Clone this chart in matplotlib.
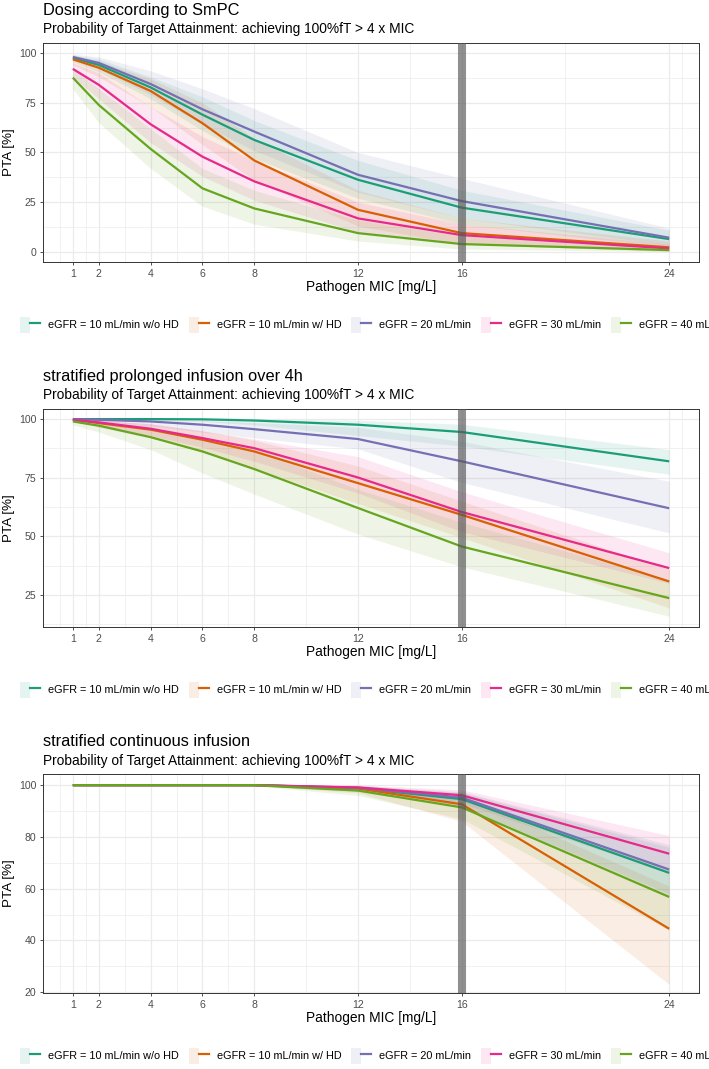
import matplotlib
matplotlib.use("Agg")
import matplotlib.pyplot as plt
from matplotlib.patches import Patch
from matplotlib.lines import Line2D
from matplotlib.legend_handler import HandlerTuple

plt.rcParams['font.family'] = ['Liberation Sans', 'DejaVu Sans']

# MIC 값 (x축)
mic = [1, 2, 4, 6, 8, 12, 16, 24]
mic_ticks = [1, 2, 4, 6, 8, 12, 16, 24]
mic_minor = [0.5, 1.5, 3, 5, 7, 10, 14, 20, 24.5]
breakpoint_mic = 16

groups = ["eGFR = 10 mL/min w/o HD", "eGFR = 10 mL/min w/ HD", "eGFR = 20 mL/min",
          "eGFR = 30 mL/min", "eGFR = 40 mL/min"]
colors = ["#1B9E77", "#D95F02", "#7570B3", "#E7298A", "#66A61E"]

# 패널 1: Dosing according to SmPC
smpc_teal = [97.5, 94, 82.7, 69, 56.3, 36.3, 22.3, 6.5]
smpc_teal_lo = [95.5, 90.5, 77, 61, 47, 27, 14, 2.5]
smpc_teal_hi = [99, 97, 88, 78, 66, 46, 31, 11]
smpc_orange = [96.8, 92.6, 80.9, 64.7, 46.0, 21.2, 9.5, 2.4]
smpc_orange_lo = [94, 88, 73, 54, 36, 13, 4, 0.5]
smpc_orange_hi = [98.5, 96, 87, 75, 57, 31, 17, 5.5]
smpc_purple = [98, 95, 84.4, 71.7, 60.5, 38.8, 25.6, 7.2]
smpc_purple_lo = [96.5, 92, 79, 64, 51, 30, 17, 3.5]
smpc_purple_hi = [99.5, 98, 91, 82, 72, 50, 37, 12]
smpc_pink = [92, 84, 64.2, 47.9, 35.5, 16.9, 8.5, 1.8]
smpc_pink_lo = [88, 77, 55, 38, 26, 10, 4, 0.3]
smpc_pink_hi = [95, 90, 73, 58, 46, 25, 14, 4]
smpc_green = [87.6, 73.9, 51.8, 32, 21.9, 9.5, 4, 1]
smpc_green_lo = [82, 65, 42, 23, 14, 5.5, 1.5, 0.2]
smpc_green_hi = [92, 82, 62, 42, 31, 16, 8, 2.5]

# 패널 2: stratified prolonged infusion over 4h
pi_teal = [100, 100, 100, 99.9, 99.4, 97.6, 94.5, 82]
pi_teal_lo = [99.8, 99.7, 99.5, 99, 97.5, 93, 88.5, 76.5]
pi_teal_hi = [100, 100, 100, 100, 100, 99.5, 97.8, 87]
pi_orange = [99.7, 98.3, 95.5, 91.2, 86.2, 72.7, 59.2, 30.8]
pi_orange_lo = [99, 96.5, 92, 86, 79, 64, 49.5, 19.5]
pi_orange_hi = [100, 99.5, 98, 95, 91, 80, 65, 36]
pi_purple = [100, 99.7, 99, 97.6, 95.7, 91.5, 82, 62]
pi_purple_lo = [99.5, 99, 97, 94.5, 92, 87.3, 73, 51.5]
pi_purple_hi = [100, 100, 99.8, 99.3, 98.5, 96.5, 90.5, 73.5]
pi_pink = [99.7, 98.6, 95.9, 91.9, 87.6, 75.1, 60.4, 36.5]
pi_pink_lo = [99, 97, 93, 88, 82, 68.5, 52, 30]
pi_pink_hi = [100, 99.5, 98, 95, 91.5, 84, 69, 43]
pi_green = [99, 97.2, 92.3, 86.2, 78.7, 62.1, 45.7, 23.7]
pi_green_lo = [97.5, 94.5, 87, 77, 68, 51, 37, 16]
pi_green_hi = [99.8, 98.8, 96, 92, 87, 70, 56, 31.5]

# 패널 3: stratified continuous infusion
ci_teal = [100, 100, 100, 100, 100, 98.8, 94.6, 66.1]
ci_teal_lo = [100, 100, 100, 100, 99.8, 97.5, 91.5, 57]
ci_teal_hi = [100, 100, 100, 100, 100, 99.8, 97.2, 76]
ci_orange = [100, 100, 100, 100, 100, 98.7, 92.6, 44.5]
ci_orange_lo = [100, 100, 100, 100, 99.8, 97, 86, 23]
ci_orange_hi = [100, 100, 100, 100, 100, 99.8, 96, 61]
ci_purple = [100, 100, 100, 100, 100, 99.0, 95.2, 67.4]
ci_purple_lo = [100, 100, 100, 100, 99.8, 97.8, 92, 58]
ci_purple_hi = [100, 100, 100, 100, 100, 99.9, 97.5, 77]
ci_pink = [100, 100, 100, 100, 100, 99.1, 96.1, 73.5]
ci_pink_lo = [100, 100, 100, 100, 99.8, 98, 93, 66]
ci_pink_hi = [100, 100, 100, 100, 100, 100, 98.2, 80.5]
ci_green = [100, 100, 100, 100, 100, 97.9, 91.4, 56.8]
ci_green_lo = [100, 100, 100, 100, 99.7, 96, 87, 44]
ci_green_hi = [100, 100, 100, 100, 100, 99.5, 95, 68]

panels = [
    dict(title="Dosing according to SmPC",
         lines=[smpc_teal, smpc_orange, smpc_purple, smpc_pink, smpc_green],
         los=[smpc_teal_lo, smpc_orange_lo, smpc_purple_lo, smpc_pink_lo, smpc_green_lo],
         his=[smpc_teal_hi, smpc_orange_hi, smpc_purple_hi, smpc_pink_hi, smpc_green_hi],
         yticks=[0, 25, 50, 75, 100], yminor=[12.5, 37.5, 62.5, 87.5],
         ylim=(-5, 105), top=43, bottom=262),
    dict(title="stratified prolonged infusion over 4h",
         lines=[pi_teal, pi_orange, pi_purple, pi_pink, pi_green],
         los=[pi_teal_lo, pi_orange_lo, pi_purple_lo, pi_pink_lo, pi_green_lo],
         his=[pi_teal_hi, pi_orange_hi, pi_purple_hi, pi_pink_hi, pi_green_hi],
         yticks=[25, 50, 75, 100], yminor=[12.5, 37.5, 62.5, 87.5],
         ylim=(11.4, 104.3), top=409, bottom=627),
    dict(title="stratified continuous infusion",
         lines=[ci_teal, ci_orange, ci_purple, ci_pink, ci_green],
         los=[ci_teal_lo, ci_orange_lo, ci_purple_lo, ci_pink_lo, ci_green_lo],
         his=[ci_teal_hi, ci_orange_hi, ci_purple_hi, ci_pink_hi, ci_green_hi],
         yticks=[20, 40, 60, 80, 100], yminor=[30, 50, 70, 90],
         ylim=(19.7, 104.3), top=774, bottom=993),
]

subtitle = "Probability of Target Attainment: achieving 100%fT > 4 x MIC"

W, H = 709, 1069
fig = plt.figure(figsize=(W / 100, H / 100), dpi=100)

left_px, right_px = 43, 699

for p in panels:
    ax = fig.add_axes([left_px / W, 1 - p["bottom"] / H,
                       (right_px - left_px) / W, (p["bottom"] - p["top"]) / H])

    # 신뢰구간 리본
    for lo, hi, c in zip(p["los"], p["his"], colors):
        ax.fill_between(mic, lo, hi, color=c, alpha=0.11, linewidth=0, zorder=2)
    # 중앙값 선
    for y, c in zip(p["lines"], colors):
        ax.plot(mic, y, color=c, linewidth=1.6, solid_capstyle="butt", zorder=3)

    # 브레이크포인트 MIC
    ax.axvline(breakpoint_mic, color="#555555", alpha=0.65, linewidth=5.8, zorder=4)

    ax.set_xlim(-0.15, 25.15)
    ax.set_ylim(*p["ylim"])
    ax.set_xticks(mic_ticks)
    ax.set_xticks(mic_minor, minor=True)
    ax.set_yticks(p["yticks"])
    ax.set_yticks(p["yminor"], minor=True)
    ax.grid(which="major", color="#EBEBEB", linewidth=0.9, zorder=0)
    ax.grid(which="minor", color="#EBEBEB", linewidth=0.5, zorder=0)
    ax.set_axisbelow(True)
    ax.tick_params(which="major", length=2.2, width=0.6, color="#333333",
                   labelsize=7.6, labelcolor="#4D4D4D", pad=2.5)
    ax.tick_params(which="minor", length=0)
    for s in ax.spines.values():
        s.set_color("#333333")
        s.set_linewidth(0.7)

    ax.annotate("Pathogen MIC [mg/L]", xy=(0.5, 0), xycoords="axes fraction",
                xytext=(0, -18), textcoords="offset points",
                ha="center", va="center", fontsize=9.9)
    ax.annotate("PTA [%]", xy=(0, 0.5), xycoords="axes fraction",
                xytext=(-24.5, 0), textcoords="offset points",
                ha="center", va="center", rotation=90, fontsize=9.7)

    # 제목, 부제목
    fig.text(left_px / W, 1 - (p["top"] - 28) / H, p["title"],
             fontsize=11.8, va="baseline", ha="left")
    fig.text(left_px / W, 1 - (p["top"] - 9.5) / H, subtitle,
             fontsize=9.9, va="baseline", ha="left")

    # 범례 (오른쪽이 잘림)
    handles = [(Patch(facecolor=c, alpha=0.11, edgecolor="none"),
                Line2D([], [], color=c, linewidth=1.6)) for c in colors]
    fig.legend(handles, groups, loc="center left",
               bbox_to_anchor=(20 / W, 1 - (p["bottom"] + 63) / H),
               ncol=5, frameon=False, fontsize=7.8,
               handlelength=1.85, handleheight=1.85, handletextpad=0.75,
               columnspacing=0.9, borderpad=0, borderaxespad=0,
               handler_map={tuple: HandlerTuple(ndivide=None)})

fig.savefig("out.png", dpi=100)
